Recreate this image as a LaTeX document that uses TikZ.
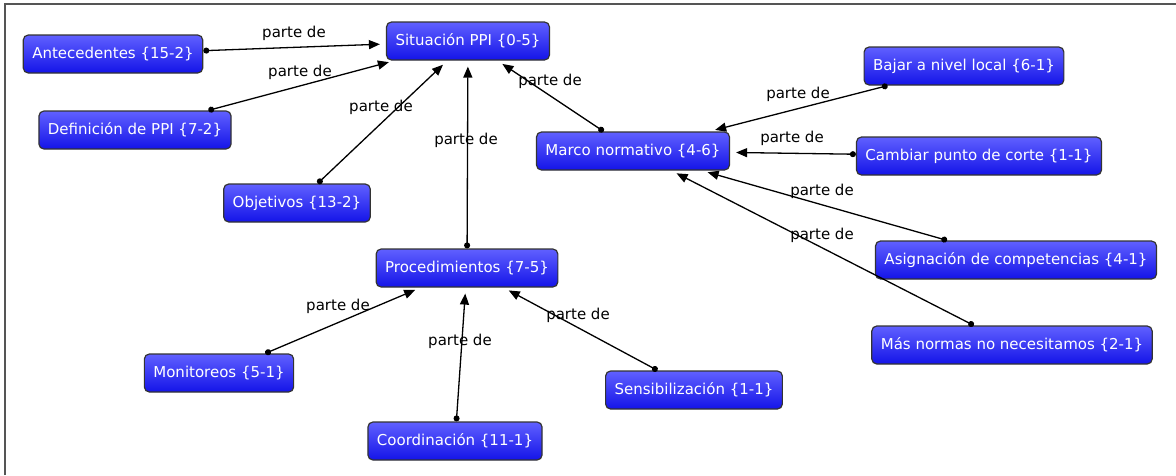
\documentclass[tikz,border=0pt]{standalone}
\usepackage{fontspec}
\setmainfont{DejaVu Sans}
\usetikzlibrary{arrows.meta}

\definecolor{azulclaro}{RGB}{96,96,255}
\definecolor{azuloscuro}{RGB}{20,20,232}
\definecolor{marco}{RGB}{85,85,85}

\tikzset{
  concepto/.style={draw=black!80, line width=1.2pt, rounded corners=5pt,
    top color=azulclaro, bottom color=azuloscuro, text=white,
    inner xsep=9pt, minimum height=38pt, font=\fontsize{15}{18}\selectfont},
  relacion/.style={line width=1.3pt, {Circle[length=6pt]}-{Triangle[length=11pt,width=9pt]},
    shorten >=6pt},
  etiqueta/.style={font=\fontsize{15}{18}\selectfont, inner sep=1pt}
}

\begin{document}
\begin{tikzpicture}[x=1pt,y=-1pt]
    \useasboundingbox (0,0) rectangle (1176,475);
    \draw [marco,line width=2.5pt] (5,475) -- (5,4) -- (1176,4);

    % conceptos
    \node[concepto] (sit)  at (468,41)  {Situación PPI \{0-5\}};
    \node[concepto] (ante) at (113,54)  {Antecedentes \{15-2\}};
    \node[concepto] (defi) at (135,130) {Definición de PPI \{7-2\}};
    \node[concepto] (obje) at (297,203) {Objetivos \{13-2\}};
    \node[concepto] (marc) at (633,151) {Marco normativo \{4-6\}};
    \node[concepto] (baja) at (964,66)  {Bajar a nivel local \{6-1\}};
    \node[concepto] (camb) at (979,156) {Cambiar punto de corte \{1-1\}};
    \node[concepto] (asig) at (1016,260) {Asignación de competencias \{4-1\}};
    \node[concepto] (mas)  at (1012,345) {Más normas no necesitamos \{2-1\}};
    \node[concepto] (proc) at (467,268) {Procedimientos \{7-5\}};
    \node[concepto] (moni) at (219,373) {Monitoreos \{5-1\}};
    \node[concepto] (sens) at (694,390) {Sensibilización \{1-1\}};
    \node[concepto] (coor) at (455,441) {Coordinación \{11-1\}};

    % relaciones
    \foreach \hijo/\padre in {ante/sit,defi/sit,obje/sit,proc/sit,marc/sit,
                              baja/marc,camb/marc,asig/marc,mas/marc,
                              moni/proc,coor/proc,sens/proc} {
        \draw [relacion] (\hijo) -- (\padre);
    }

    % etiquetas
    \node[etiqueta] (l1)  at (294,33)  {parte de};
    \node[etiqueta] (l2)  at (300,72)  {parte de};
    \node[etiqueta] (l3)  at (381,107) {parte de};
    \node[etiqueta] (l4)  at (466,140) {parte de};
    \node[etiqueta] (l5)  at (550,81)  {parte de};
    \node[etiqueta] (l6)  at (798,94)  {parte de};
    \node[etiqueta] (l7)  at (792,138) {parte de};
    \node[etiqueta] (l8)  at (822,191) {parte de};
    \node[etiqueta] (l9)  at (822,235) {parte de};
    \node[etiqueta] (l10) at (338,306) {parte de};
    \node[etiqueta] (l11) at (460,341) {parte de};
    \node[etiqueta] (l12) at (578,315) {parte de};
\end{tikzpicture}
\end{document}
